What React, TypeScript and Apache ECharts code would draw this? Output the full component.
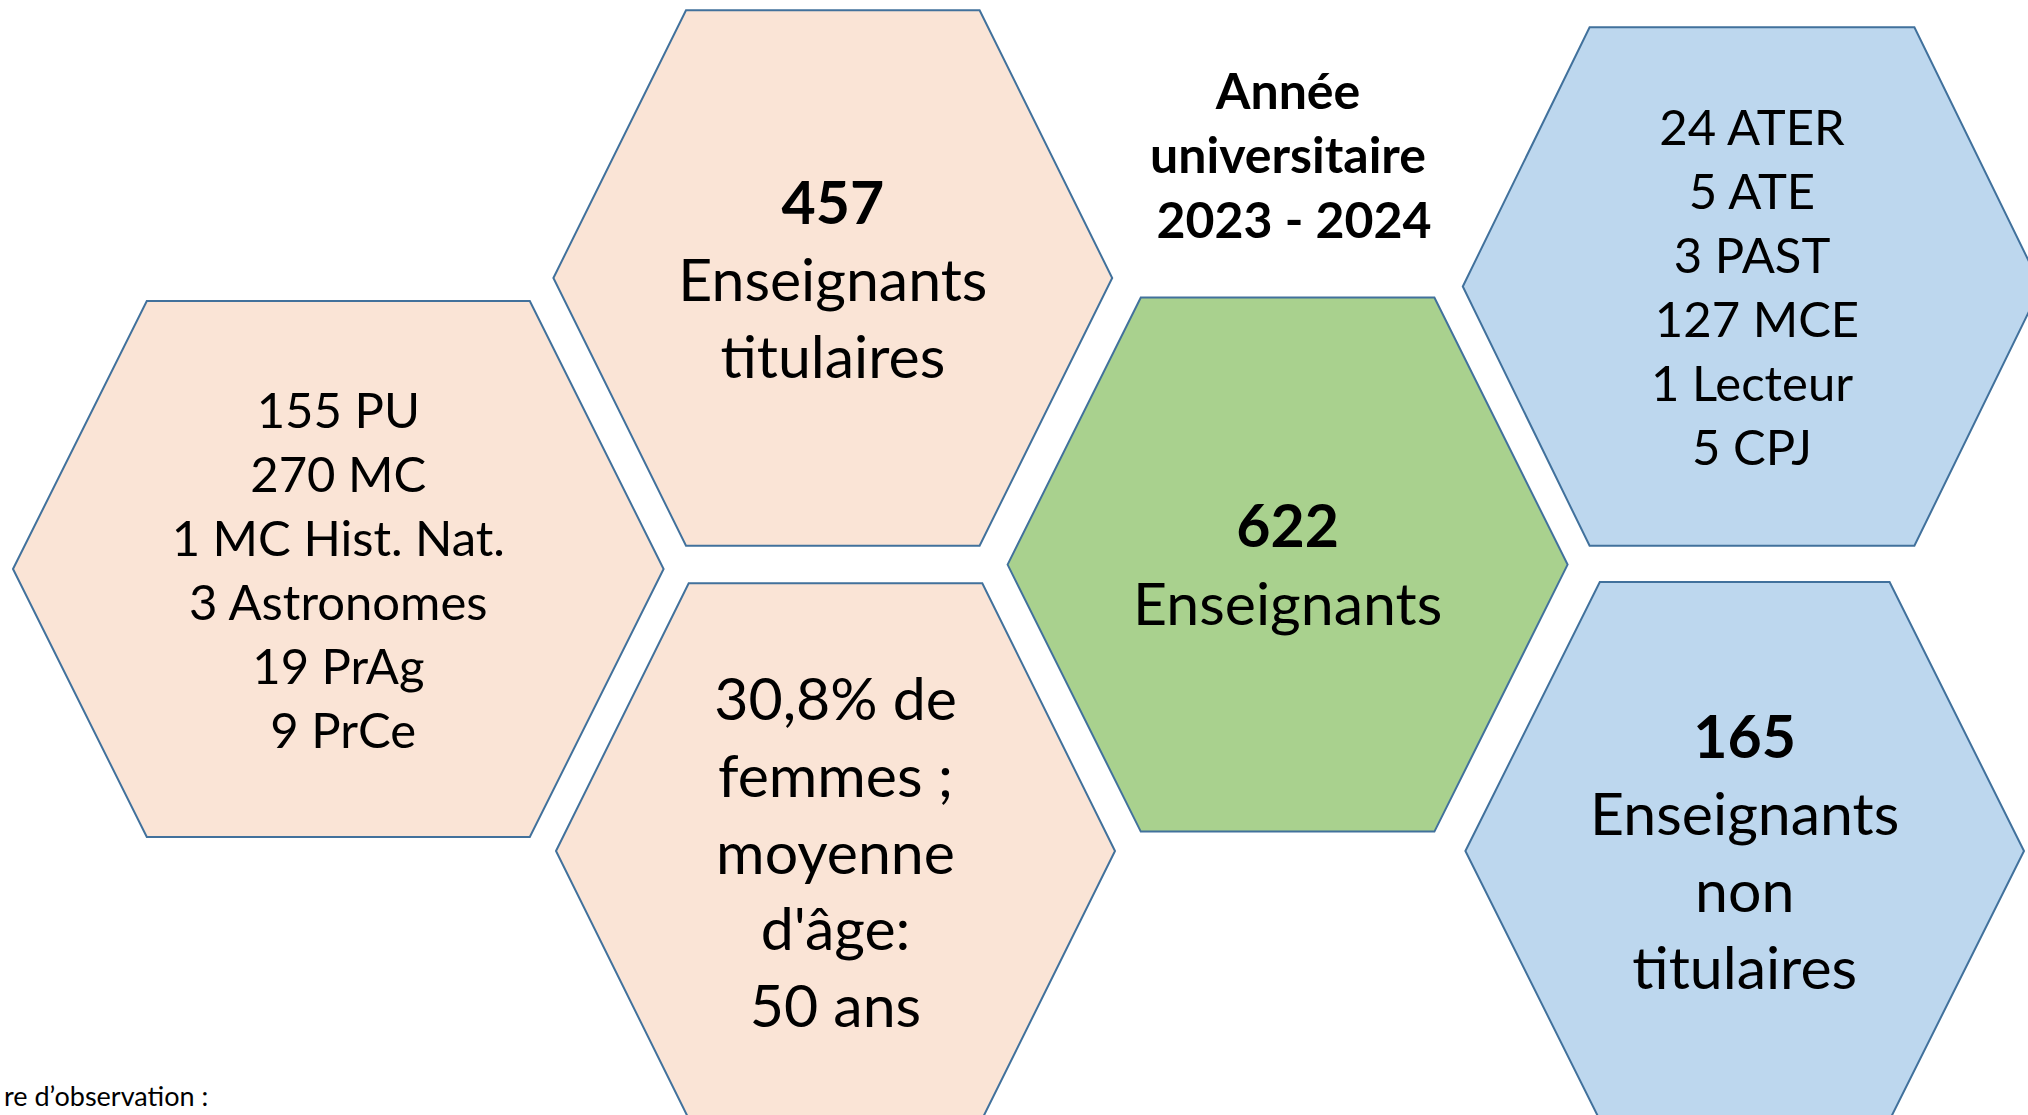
import React, { useEffect, useRef } from "react";
import * as echarts from "echarts";

// ---------- data (texts & values) ----------
const titleLines = ["Année", "universitaire", "2023 - 2024"];
const totalCount = 622;
const totalLabel = ["Enseignants"];
const titulairesCount = 457;
const titulairesLabel = ["Enseignants", "titulaires"];
const nonTitulairesCount = 165;
const nonTitulairesLabel = ["Enseignants", "non", "titulaires"];
const titulairesDetail = ["155 PU", "270 MC", "1 MC Hist. Nat.", "3 Astronomes", "19 PrAg", "9 PrCe"];
const nonTitulairesDetail = ["24 ATER", "5 ATE", "3 PAST", "127 MCE", "1 Lecteur", "5 CPJ"];
const profileLines = ["30,8% de", "femmes ;", "moyenne", "d'âge:", "50 ans"];
const footnoteText = "re d’observation :";

// ---------- layout & style ----------
const W = 2028;
const H = 1115;
const FONT = "Lato, 'Open Sans', sans-serif";
const PEACH = "#FAE4D6";
const GREEN = "#A9D18E";
const BLUE = "#BDD7EE";
const STROKE = "#41719C";

// cx, cy: centre; hw: half width (side points); ht: half top edge; hh: half height
const hexLayout = [
  { cx: 338.3, cy: 569, hw: 325.3, ht: 191.5, hh: 268, fill: PEACH, size: 49, lh: 64, dy: -0.5, dx: [0, 0, 0, 0, 0, 5] },
  { cx: 832.8, cy: 278, hw: 279.4, ht: 146.8, hh: 267.7, fill: PEACH, size: 59, lh: 77, dy: 0, dx: [] },
  { cx: 835.5, cy: 851, hw: 279.5, ht: 146.8, hh: 267.7, fill: PEACH, size: 59, lh: 76.6, dy: 0, dx: [] },
  { cx: 1287.6, cy: 564.6, hw: 280, ht: 146.8, hh: 267, fill: GREEN, size: 59, lh: 77.6, dy: -1.4, dx: [] },
  { cx: 1752, cy: 286.5, hw: 289.2, ht: 162.4, hh: 259.3, fill: BLUE, size: 49, lh: 64, dy: -0.7, dx: [0, 0, 0, 5, 0, 0] },
  { cx: 1744.7, cy: 851, hw: 279.3, ht: 144.9, hh: 269, fill: BLUE, size: 59, lh: 77.2, dy: 0, dx: [] },
];
const titleLayout = { x: 1288, cy: 154.4, lh: 64.6, dx: [0, 0, 6] };

type Line = { t: string; b: boolean };
const plain = (arr: string[]): Line[] => arr.map((t) => ({ t, b: false }));
const hexContent: Line[][] = [
  plain(titulairesDetail),
  [{ t: String(titulairesCount), b: true }, ...plain(titulairesLabel)],
  plain(profileLines),
  [{ t: String(totalCount), b: true }, ...plain(totalLabel)],
  plain(nonTitulairesDetail),
  [{ t: String(nonTitulairesCount), b: true }, ...plain(nonTitulairesLabel)],
];

export default function App() {
  const ref = useRef<HTMLDivElement>(null);
  useEffect(() => {
    if (!ref.current) return;
    const chart = echarts.init(ref.current, null, { renderer: "svg", width: W, height: H });

    const renderItem = (params: any, api: any) => {
      const i = params.dataIndex;
      const L = hexLayout[i];
      const cx = api.value(0);
      const cy = api.value(1);
      const verts = [
        [cx - L.hw, cy],
        [cx - L.ht, cy - L.hh],
        [cx + L.ht, cy - L.hh],
        [cx + L.hw, cy],
        [cx + L.ht, cy + L.hh],
        [cx - L.ht, cy + L.hh],
      ].map((p) => api.coord(p));
      const lines = hexContent[i];
      const n = lines.length;
      const children: any[] = [
        {
          type: "polygon",
          shape: { points: verts },
          style: { fill: L.fill, stroke: STROKE, lineWidth: 2 },
        },
      ];
      lines.forEach((ln, k) => {
        const p = api.coord([cx + (L.dx[k] || 0), cy + L.dy + (k - (n - 1) / 2) * L.lh]);
        children.push({
          type: "text",
          x: p[0],
          y: p[1],
          style: {
            text: ln.t,
            fill: "#000",
            font: `${ln.b ? "bold " : ""}${L.size}px ${FONT}`,
            textAlign: "center",
            textVerticalAlign: "middle",
          },
        });
      });
      return { type: "group", children };
    };

    const graphic: any[] = titleLines.map((t, k) => ({
      type: "text",
      x: titleLayout.x + (titleLayout.dx[k] || 0),
      y: titleLayout.cy + (k - 1) * titleLayout.lh,
      style: {
        text: t,
        fill: "#000",
        font: `bold 50px ${FONT}`,
        textAlign: "center",
        textVerticalAlign: "middle",
      },
    }));
    graphic.push({
      type: "text",
      x: 4,
      y: 1109,
      style: {
        text: footnoteText,
        fill: "#000",
        font: `27px ${FONT}`,
        textAlign: "left",
        textVerticalAlign: "bottom",
      },
    });

    chart.setOption({
      animation: false,
      backgroundColor: "#ffffff",
      grid: { left: 0, right: 0, top: 0, bottom: 0, containLabel: false },
      xAxis: { type: "value", min: 0, max: W, show: false },
      yAxis: { type: "value", min: 0, max: H, inverse: true, show: false },
      series: [
        {
          type: "custom",
          clip: false,
          renderItem,
          data: hexLayout.map((h) => [h.cx, h.cy]),
        },
      ],
      graphic,
    });
    return () => chart.dispose();
  }, []);

  return (
    <div
      ref={ref}
      style={{ position: "fixed", left: 0, top: 0, width: W, height: H, background: "#fff" }}
    />
  );
}
